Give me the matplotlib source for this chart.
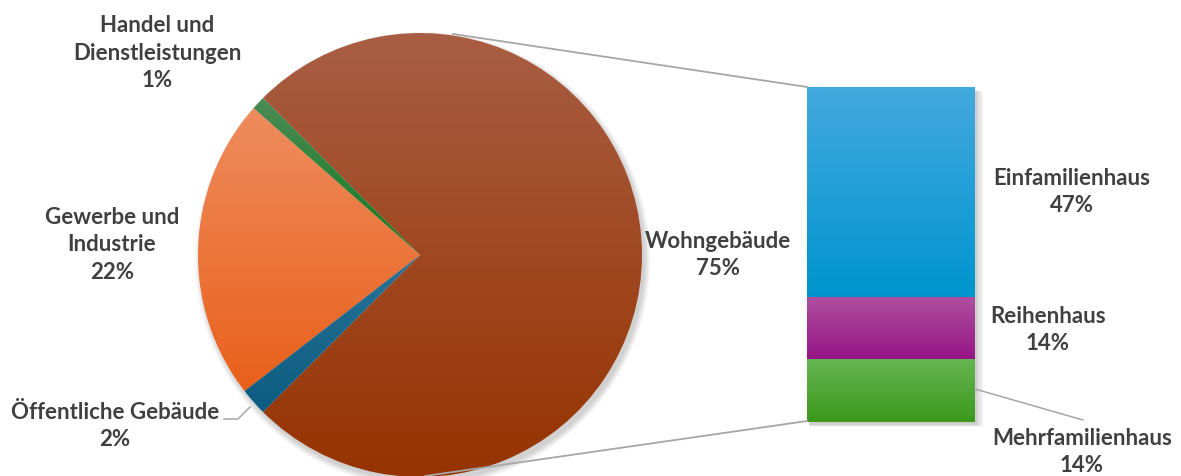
import numpy as np
import matplotlib
matplotlib.use("Agg")
import matplotlib.pyplot as plt
from matplotlib.colors import to_rgb
from matplotlib.patches import Circle, Rectangle

# data
pie_labels = ["Wohngebäude", "Handel und\nDienstleistungen", "Gewerbe und\nIndustrie", "Öffentliche Gebäude"]
pie_values = [75, 1, 22, 2]
pie_top = ["#A95E44", "#4B8B55", "#EF8C5E", "#2A7398"]
pie_bot = ["#963300", "#137A1E", "#E9601A", "#0A5C80"]

bar_labels = ["Mehrfamilienhaus", "Reihenhaus", "Einfamilienhaus"]
bar_values = [14, 14, 47]
bar_top = ["#66B552", "#AF50A0", "#43A9DF"]
bar_bot = ["#3C991C", "#951585", "#0094CE"]

W, H = 1181, 477
TXT = "#404040"
LINE = "#A6A6A6"
plt.rcParams["font.family"] = ["Lato", "DejaVu Sans"]

fig = plt.figure(figsize=(W / 100, H / 100), dpi=100)


def px_axes(x0, y0, x1, y1):
    return fig.add_axes([x0 / W, (H - y1) / H, (x1 - x0) / W, (y1 - y0) / H])


def grad_fill(ax, patch, top, bot, z):
    v = patch.get_path().transformed(patch.get_patch_transform()).vertices
    x0, x1 = v[:, 0].min(), v[:, 0].max()
    y0, y1 = v[:, 1].min(), v[:, 1].max()
    t = np.linspace(0, 1, 256)[:, None]
    c = (1 - t) * np.array(to_rgb(top)) + t * np.array(to_rgb(bot))
    im = ax.imshow(c[:, None, :], extent=(x0, x1, y0, y1), origin="upper",
                   aspect="auto", zorder=z, interpolation="bilinear")
    im.set_clip_path(patch)
    patch.set_alpha(0)


# pie
cx, cy, r = 420, 256, 222
ax_pie = px_axes(cx - r, cy - r, cx + r, cy + r)
for k in range(6):
    ax_pie.add_patch(Circle((0.012, -0.02), 1.0 + 0.005 * k, color="#000000",
                            alpha=0.03, lw=0, zorder=0, clip_on=False))
wedges, _ = ax_pie.pie(pie_values, startangle=-135, counterclock=True,
                       radius=1, wedgeprops=dict(linewidth=0))
for w, t, b in zip(wedges, pie_top, pie_bot):
    grad_fill(ax_pie, w, t, b, 2)
ax_pie.set_xlim(-1, 1)
ax_pie.set_ylim(-1, 1)
ax_pie.set_aspect("equal")
ax_pie.axis("off")
ax_pie.patch.set_alpha(0)

# stacked bar
bx0, by0, bx1, by1 = 807, 88, 975, 423
ax_bar = px_axes(bx0, by0, bx1, by1)
for k in range(5):
    ax_bar.add_patch(Rectangle((-0.5 + 0.01, -0.6 - 0.12 * k), 1.0 + 0.01 * k,
                               sum(bar_values), color="#000000", alpha=0.04,
                               lw=0, zorder=0, clip_on=False))
bottom = 0
for v, t, b in zip(bar_values, bar_top, bar_bot):
    rect = ax_bar.bar(0, v, bottom=bottom, width=1, linewidth=0)[0]
    grad_fill(ax_bar, rect, t, b, 2)
    bottom += v
ax_bar.set_xlim(-0.5, 0.5)
ax_bar.set_ylim(0, sum(bar_values))
ax_bar.axis("off")
ax_bar.patch.set_alpha(0)

# overlay for connectors and labels
ov = fig.add_axes([0, 0, 1, 1], zorder=5)
ov.set_xlim(0, W)
ov.set_ylim(H, 0)
ov.axis("off")
ov.patch.set_alpha(0)

ov.plot([453, 807], [35, 88], color=LINE, lw=1.3)
ov.plot([425, 807], [477, 422], color=LINE, lw=1.3)
ov.plot([224, 238, 250], [420, 420, 408], color=LINE, lw=1.1)
ov.plot([975, 1083], [390, 421], color=LINE, lw=1.1)

kw = dict(color=TXT, fontsize=16, fontweight="bold", ha="center",
          va="center", linespacing=1.4)
ov.text(718, 255, f"{pie_labels[0]}\n{pie_values[0]}%", **kw)
ov.text(157, 53, f"{pie_labels[1]}\n{pie_values[1]}%", **kw)
ov.text(112, 245, f"{pie_labels[2]}\n{pie_values[2]}%", **kw)
ov.text(115, 426, f"{pie_labels[3]}\n{pie_values[3]}%", **kw)
ov.text(1082, 452, f"{bar_labels[0]}\n{bar_values[0]}%", **kw)
ov.text(1048, 330, f"{bar_labels[1]}\n{bar_values[1]}%", **kw)
ov.text(1072, 192, f"{bar_labels[2]}\n{bar_values[2]}%", **kw)

fig.savefig("out.png", dpi=100)
